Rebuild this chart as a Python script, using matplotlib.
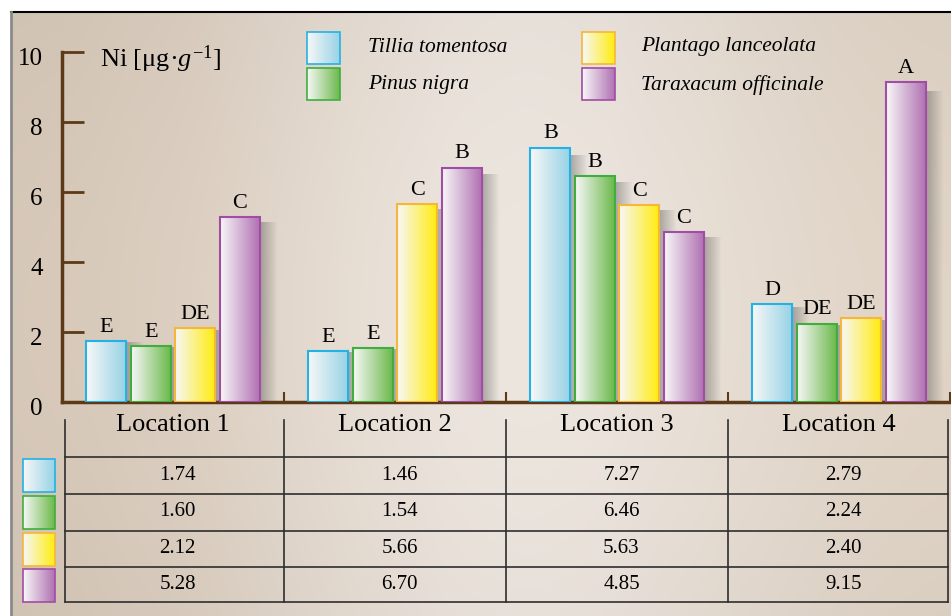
import numpy as np
import matplotlib.pyplot as plt
import matplotlib.transforms as mtransforms
from matplotlib.colors import to_rgb
from matplotlib.patches import Rectangle

plt.rcParams['font.family'] = ['Liberation Serif', 'DejaVu Serif']
plt.rcParams['mathtext.fontset'] = 'custom'
plt.rcParams['mathtext.rm'] = 'Liberation Serif'
plt.rcParams['mathtext.it'] = 'Liberation Serif:italic'

# data
locations = ['Location 1', 'Location 2', 'Location 3', 'Location 4']
species = ['Tillia tomentosa', 'Pinus nigra', 'Plantago lanceolata', 'Taraxacum officinale']
tillia = [1.74, 1.46, 7.27, 2.79]
pinus = [1.60, 1.54, 6.46, 2.24]
plantago = [2.12, 5.66, 5.63, 2.40]
taraxacum = [5.28, 6.70, 4.85, 9.15]
tillia_grp = ['E', 'E', 'B', 'D']
pinus_grp = ['E', 'E', 'B', 'DE']
plantago_grp = ['DE', 'C', 'C', 'DE']
taraxacum_grp = ['C', 'B', 'C', 'A']
yticks = [0, 2, 4, 6, 8, 10]

series = [tillia, pinus, plantago, taraxacum]
letters = [tillia_grp, pinus_grp, plantago_grp, taraxacum_grp]
edge_colors = ['#22b2e6', '#3fae3f', '#f6b63a', '#a14ca6']
fill_colors = ['#98d3e6', '#6cb94c', '#ffec12', '#b071b2']
brown = '#5c3a17'

W, H = 951, 616
fig = plt.figure(figsize=(W / 100, H / 100), dpi=100, facecolor='white')


def grad_fill(axis, x0, x1, y0, y1, color, z):
    g = np.linspace(0, 1, 64)[:, None]
    c0 = np.array([1.0, 1.0, 1.0]) * 0.97
    img = (1 - g) * c0 + g * np.array(to_rgb(color))
    axis.imshow(img[None, :, :], extent=(x0, x1, y0, y1), aspect='auto',
                interpolation='bilinear', zorder=z)


# background panel (pixel coords)
bg = fig.add_axes([0, 0, 1, 1], zorder=0)
xx = np.linspace(0, 1, 300)
yy = np.linspace(0, 1, 150)
left = np.array([214, 199, 183]) / 255
mid = np.array([237, 230, 223]) / 255
right = np.array([223, 210, 195]) / 255
w_mid = np.exp(-((xx - 0.55) / 0.3) ** 2)[:, None]
base = left * (1 - xx)[:, None] + right * xx[:, None]
col = base * (1 - w_mid) + mid * w_mid
img = np.repeat(col[None, :, :], len(yy), axis=0)
img = img * (0.975 + 0.025 * np.sin(np.pi * yy))[:, None, None]
bg.imshow(img, extent=(11, W, H, 12), aspect='auto', interpolation='bicubic')
bg.plot([11, W], [12, 12], color='black', lw=1.5)
bg.plot([11, 11], [12, H], color='#8a8a8a', lw=2)
bg.set_xlim(0, W)
bg.set_ylim(H, 0)
bg.axis('off')

# y label
bg.text(100, 59, r'Ni [μg·$g^{\mathrm{-1}}$]', fontsize=19, ha='left', va='center')

# legend
leg_pos = [(307, 32), (307, 68), (582, 32), (582, 68)]
leg_text = [(368, 47), (368, 85), (641, 47), (641, 85)]
for i, name in enumerate(species):
    x0, y0 = leg_pos[i]
    grad_fill(bg, x0, x0 + 33, y0 + 32, y0, fill_colors[i], 3)
    bg.add_patch(Rectangle((x0, y0), 33, 32, fill=False, ec=edge_colors[i], lw=1.2, zorder=4))
    bg.text(leg_text[i][0], leg_text[i][1], name, fontsize=15.5, style='italic',
            ha='left', va='center')

# table swatches
sw_y = [459, 496, 533, 569]
for i in range(4):
    grad_fill(bg, 23, 55, sw_y[i] + 33, sw_y[i], fill_colors[i], 3)
    bg.add_patch(Rectangle((23, sw_y[i]), 32, 33, fill=False, ec=edge_colors[i], lw=1.2, zorder=4))
bg.set_xlim(0, W)
bg.set_ylim(H, 0)

# main bar axes
ax = fig.add_axes([62 / W, (H - 402) / H, 888 / W, 350 / H], zorder=2)
ax.patch.set_alpha(0)
x = np.arange(len(locations))
offsets = [-0.3, -0.1, 0.1, 0.3]
bw = 0.18
for i, vals in enumerate(series):
    xs = x + offsets[i]
    bars = ax.bar(xs, vals, width=bw, facecolor='none', edgecolor=edge_colors[i],
                  lw=1.5, zorder=4)
    for b, v, lab in zip(bars, vals, letters[i]):
        x0 = b.get_x()
        x1 = x0 + bw
        grad_fill(ax, x0, x1, 0, v, fill_colors[i], 3)
        # soft shadow to the right
        sh = np.zeros((1, 32, 4))
        sh[..., 0:3] = 0.35
        sh[0, :, 3] = np.linspace(0.45, 0.0, 32)
        ax.imshow(sh, extent=(x1, x1 + 0.08, 0, v * 0.97), aspect='auto',
                  interpolation='bilinear', zorder=2)
        ax.text(x0 + bw / 2, v + 0.12, lab, fontsize=16, ha='center', va='bottom', zorder=5)

ax.set_xlim(-0.5, 3.5)
ax.set_ylim(0, 10)
for s in ['top', 'right']:
    ax.spines[s].set_visible(False)
for s in ['left', 'bottom']:
    ax.spines[s].set_color(brown)
    ax.spines[s].set_linewidth(2.5)
ax.set_yticks(yticks)
ax.set_yticklabels([str(t) for t in yticks])
ax.tick_params(axis='y', direction='in', length=16, width=2, color=brown, pad=14,
               labelsize=18)
shift = mtransforms.ScaledTranslation(0, -3 / 72, fig.dpi_scale_trans)
for lbl in ax.get_yticklabels():
    lbl.set_transform(lbl.get_transform() + shift)
ax.set_xticks([])
ax.set_xticks([0.5, 1.5, 2.5, 3.5], minor=True)
ax.tick_params(axis='x', which='minor', direction='in', length=7, width=1.5,
               color=brown, labelbottom=False)

# table under the bars
tb = fig.add_axes([62 / W, 0, 888 / W, (H - 402) / H], zorder=1)
tb.patch.set_alpha(0)
tb.set_xlim(-0.5, 3.5)
tb.set_ylim(H, 402)
tb.axis('off')
lc = '#2e2e2e'
for xv in [-0.487, 0.5, 1.5, 2.5, 3.49]:
    tb.plot([xv, xv], [420, 602], color=lc, lw=1.2)
for yv in [457, 494, 531, 567, 602]:
    tb.plot([-0.487, 3.49], [yv, yv], color=lc, lw=1.2)
for j, loc in enumerate(locations):
    tb.text(j, 425, loc, fontsize=19, ha='center', va='center')
row_y = [476, 512, 549, 585]
for i, vals in enumerate(series):
    for j, v in enumerate(vals):
        tb.text(j + 0.02, row_y[i], f'{v:.2f}', fontsize=15, ha='center', va='center')

fig.savefig('out.png', dpi=100, facecolor='white')
